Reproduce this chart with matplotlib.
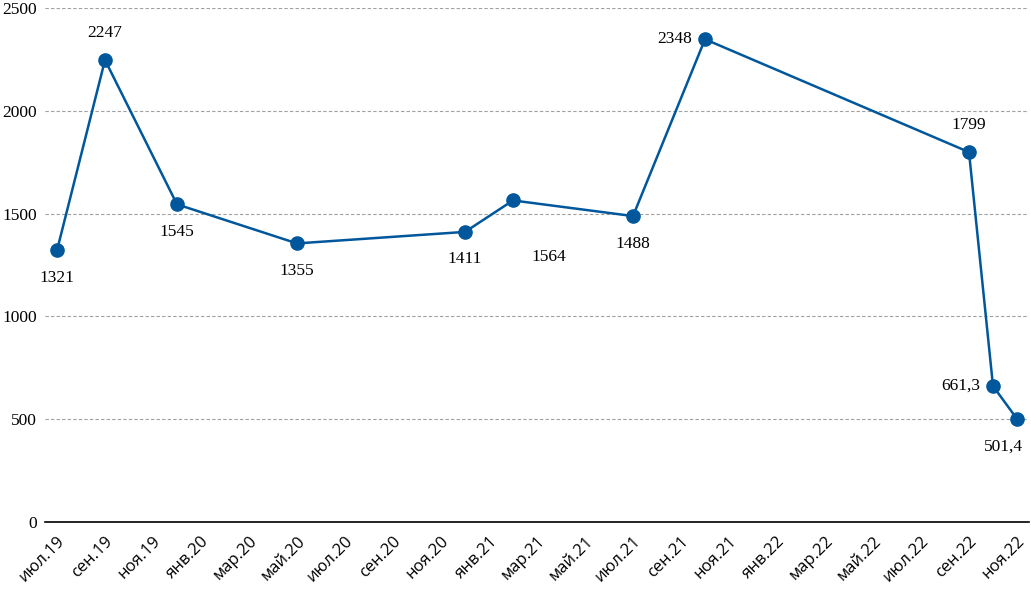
import matplotlib.pyplot as plt

months = ['июл.19', 'авг.19', 'сен.19', 'окт.19', 'ноя.19', 'дек.19',
          'янв.20', 'фев.20', 'мар.20', 'апр.20', 'май.20', 'июн.20',
          'июл.20', 'авг.20', 'сен.20', 'окт.20', 'ноя.20', 'дек.20',
          'янв.21', 'фев.21', 'мар.21', 'апр.21', 'май.21', 'июн.21',
          'июл.21', 'авг.21', 'сен.21', 'окт.21', 'ноя.21', 'дек.21',
          'янв.22', 'фев.22', 'мар.22', 'апр.22', 'май.22', 'июн.22',
          'июл.22', 'авг.22', 'сен.22', 'окт.22', 'ноя.22']

# months that have a value
point_months = ['июл.19', 'сен.19', 'дек.19', 'май.20', 'дек.20', 'фев.21',
                'июл.21', 'окт.21', 'сен.22', 'окт.22', 'ноя.22']
values = [1321, 2247, 1545, 1355, 1411, 1564, 1488, 2348, 1799, 661.3, 501.4]
labels = ['1321', '2247', '1545', '1355', '1411', '1564', '1488', '2348', '1799', '661,3', '501,4']
# label offsets in points from the marker
offsets = [(0, -14), (0, 14), (0, -14), (0, -14), (0, -14), (26, -35),
           (0, -14), (-9, 0), (0, 14), (-9, 0), (-10, -14)]

color = '#01579B'

fig = plt.figure(figsize=(10.31, 5.94), dpi=100)
ax = fig.add_axes([45 / 1031, 72 / 594, 984 / 1031, 514 / 594])

xs = [months.index(m) for m in point_months]
ax.plot(xs, values, color=color, lw=1.8, marker='o', ms=9.5, zorder=3)

for x, v, t, (dx, dy) in zip(xs, values, labels, offsets):
    if dx < 0 and dy == 0:
        ha, va = 'right', 'center'
    else:
        ha, va = 'center', ('top' if dy < 0 else 'bottom')
    ax.annotate(t, (x, v), xytext=(dx, dy), textcoords='offset points',
                ha=ha, va=va, fontsize=12.5, family='Liberation Serif')

ax.set_xlim(-0.5, len(months) - 0.5)
ax.set_ylim(0, 2500)
ax.set_yticks(range(0, 2501, 500))
ax.set_yticklabels([str(v) for v in range(0, 2501, 500)], family='Liberation Serif', fontsize=12.5)
ax.grid(axis='y', color='#A0A0A0', ls=(0, (3, 2)), lw=0.8)
ax.set_axisbelow(True)

ticks = list(range(0, len(months), 2))
ax.set_xticks(ticks)
ax.set_xticklabels([months[i] for i in ticks], rotation=45, ha='right', va='top',
                   rotation_mode='anchor', fontsize=12, family='Open Sans')
ax.tick_params(axis='both', length=0, pad=6)
ax.tick_params(axis='x', pad=8)

for s in ['top', 'right', 'left']:
    ax.spines[s].set_visible(False)
ax.spines['bottom'].set_color('black')
ax.spines['bottom'].set_linewidth(1.2)

fig.savefig('out.png', dpi=100)
